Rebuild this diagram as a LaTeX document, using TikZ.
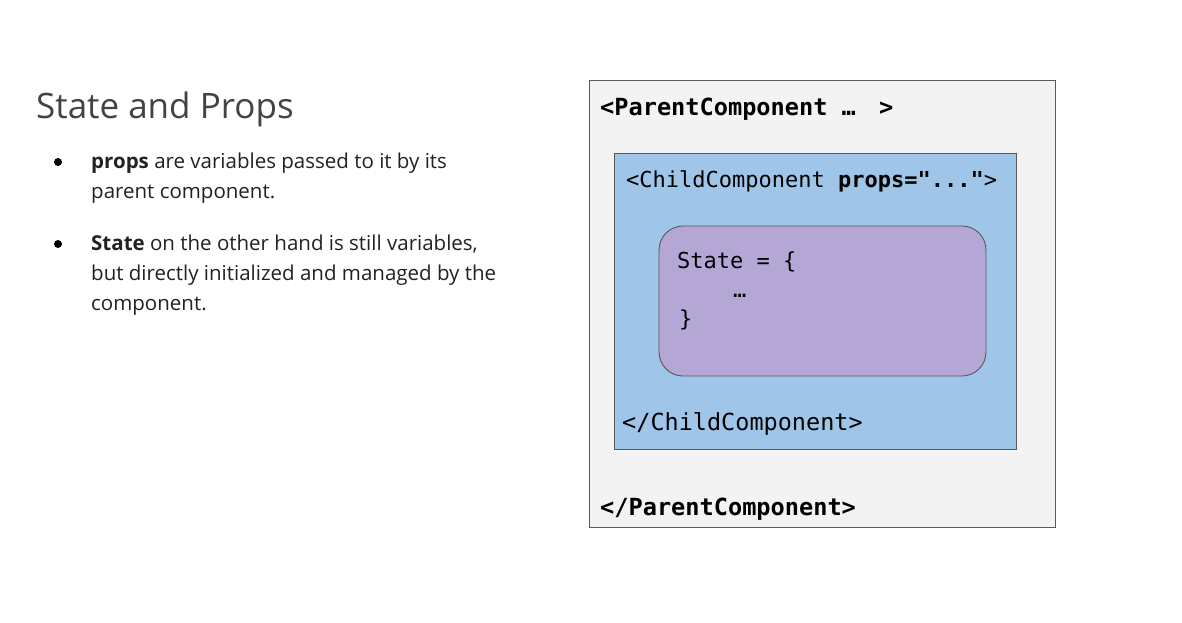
\documentclass[tikz,border=0pt]{standalone}
\usepackage{fontspec}
\setmainfont{Open Sans}
\setmonofont{DejaVu Sans Mono}
\definecolor{titlegray}{HTML}{434343}
\definecolor{bodyblack}{HTML}{222222}
\definecolor{outerfill}{HTML}{F3F3F3}
\definecolor{bluefill}{HTML}{9FC5E8}
\definecolor{purplefill}{HTML}{B4A7D6}
\definecolor{edgegray}{HTML}{595959}
\tikzset{
  panel/.style={draw=edgegray, line width=0.9pt},
  codetext/.style={anchor=base west, inner sep=0pt, font=\ttfamily\fontsize{22}{26}\selectfont, text=black},
  boldcode/.style={codetext, font=\ttfamily\bfseries\fontsize{23.6}{28}\selectfont},
  bodytext/.style={anchor=base west, inner sep=0pt, text=bodyblack, font=\fontsize{20.5}{30}\selectfont},
  bulletdot/.style={circle, fill=black, inner sep=0pt, minimum size=8pt},
}
\begin{document}
\begin{tikzpicture}[x=1pt,y=-1pt]
\useasboundingbox[fill=white] (0,0) rectangle (1182,623);
% left text
\node[anchor=base west, inner sep=0pt, text=titlegray, font=\fontsize{35}{40}\selectfont] (title) at (36,118) {State and Props};
\node[bulletdot] (b1) at (58,162) {};
\node[bodytext] (t1a) at (91,168) {\textbf{props} are variables passed to it by its};
\node[bodytext] (t1b) at (91,198) {parent component.};
\node[bulletdot] (b2) at (58,244) {};
\node[bodytext] (t2a) at (91,250) {\textbf{State} on the other hand is still variables,};
\node[bodytext] (t2b) at (91,280) {but directly initialized and managed by the};
\node[bodytext] (t2c) at (91,310) {component.};
% boxes
\path[panel, fill=outerfill] (589,80) rectangle (1055,527);
\path[panel, fill=bluefill] (614,153) rectangle (1016,449);
\path[panel, fill=purplefill, rounded corners=24pt] (659,226) rectangle (986,376);
\node[boldcode] (popen) at (600,115) {<ParentComponent …\kern9pt{} >};
\node[codetext] (copen) at (626,187) {<ChildComponent \textbf{props="..."}>};
\node[codetext] (sopen) at (677,268) {State = \{};
\node[codetext] (sdots) at (733,297) {…};
\node[codetext] (sclose) at (679,326) {\}};
\node[codetext, font=\ttfamily\fontsize{23.5}{28}\selectfont] (cclose) at (622,430) {</ChildComponent>};
\node[boldcode] (pclose) at (600,515) {</ParentComponent>};
\end{tikzpicture}
\end{document}
